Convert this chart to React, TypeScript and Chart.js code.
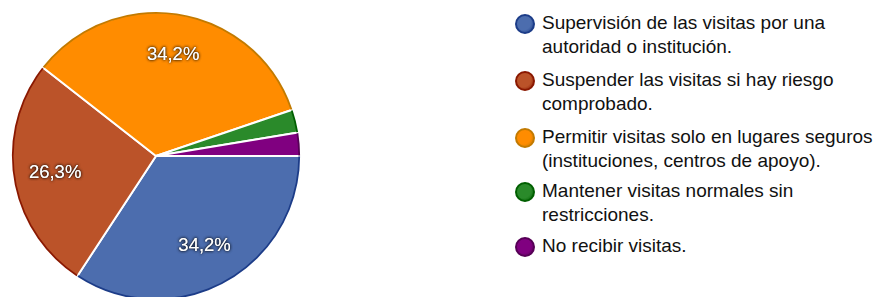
import React, { useEffect, useRef } from "react";
import { Chart, registerables } from "chart.js";

Chart.register(...registerables);

const categories: string[][] = [
  ["Supervisión de las visitas por una", "autoridad o institución."],
  ["Suspender las visitas si hay riesgo", "comprobado."],
  ["Permitir visitas solo en lugares seguros", "(instituciones, centros de apoyo)."],
  ["Mantener visitas normales sin", "restricciones."],
  ["No recibir visitas."],
];
const values: number[] = [34.2, 26.3, 34.2, 2.6, 2.6];
const sliceLabels: string[] = ["34,2%", "26,3%", "34,2%", "", ""];
const fillColors: string[] = ["#4c6dae", "#bb5329", "#ff8c00", "#2a8a2a", "#800080"];
const edgeColors: string[] = ["#1c3c88", "#8a1800", "#c27a00", "#005f00", "#560056"];

const FONT = '"Liberation Sans", Arial, sans-serif';

const outerEdgePlugin = {
  id: "outerEdge",
  afterDatasetsDraw(chart: any) {
    const meta = chart.getDatasetMeta(0);
    const ctx = chart.ctx;
    meta.data.forEach((arc: any, i: number) => {
      const { x, y, startAngle, endAngle, outerRadius } = arc.getProps(
        ["x", "y", "startAngle", "endAngle", "outerRadius"],
        true
      );
      ctx.save();
      ctx.beginPath();
      ctx.arc(x, y, outerRadius - 0.8, startAngle + 0.004, endAngle - 0.004);
      ctx.strokeStyle = edgeColors[i];
      ctx.lineWidth = 1.8;
      ctx.stroke();
      ctx.restore();
    });
    meta.data.forEach((arc: any, i: number) => {
      const text = sliceLabels[i];
      if (!text) return;
      const { x, y, startAngle, endAngle, outerRadius } = arc.getProps(
        ["x", "y", "startAngle", "endAngle", "outerRadius"],
        true
      );
      const mid = (startAngle + endAngle) / 2;
      const r = outerRadius * 0.71;
      const tx = x + Math.cos(mid) * r;
      const ty = y + Math.sin(mid) * r;
      ctx.save();
      ctx.font = `18.5px ${FONT}`;
      ctx.textAlign = "center";
      ctx.textBaseline = "middle";
      ctx.shadowColor = "rgba(0,0,0,0.8)";
      ctx.shadowBlur = 3;
      ctx.fillStyle = "#ffffff";
      ctx.fillText(text, tx, ty);
      ctx.fillText(text, tx, ty);
      ctx.restore();
    });
  },
};

function PieChart() {
  const ref = useRef<HTMLCanvasElement | null>(null);
  useEffect(() => {
    if (!ref.current) return;
    const chart = new Chart(ref.current, {
      type: "pie",
      data: {
        labels: categories,
        datasets: [
          {
            data: values,
            backgroundColor: fillColors,
            borderColor: "#ffffff",
            borderWidth: 2,
          },
        ],
      },
      options: {
        animation: false,
        responsive: false,
        rotation: 90,
        layout: { padding: 11 },
        plugins: {
          legend: { display: false },
          tooltip: { enabled: false },
        },
      },
      plugins: [outerEdgePlugin],
    });
    return () => chart.destroy();
  }, []);
  return (
    <canvas
      ref={ref}
      width={312}
      height={312}
      style={{ position: "absolute", left: 0, top: 0, width: 312, height: 312 }}
    />
  );
}

const legendTops = [11, 68, 125, 179, 234];

export default function App() {
  useEffect(() => {
    document.body.style.margin = "0";
    document.body.style.background = "#ffffff";
  }, []);
  return (
    <div
      style={{
        position: "relative",
        width: 883,
        height: 297,
        overflow: "hidden",
        background: "#ffffff",
        fontFamily: FONT,
      }}
    >
      <PieChart />
      {categories.map((lines, i) => (
        <div
          key={i}
          style={{ position: "absolute", left: 515, top: legendTops[i], display: "flex" }}
        >
          <div
            style={{
              width: 16,
              height: 16,
              marginTop: 3,
              borderRadius: "50%",
              border: `2px solid ${edgeColors[i]}`,
              background: `radial-gradient(circle at 40% 40%, ${fillColors[i]} 55%, ${edgeColors[i]} 100%)`,
              flex: "0 0 auto",
            }}
          />
          <div
            style={{
              marginLeft: 7,
              fontSize: 19,
              lineHeight: "24px",
              color: "#111",
              whiteSpace: "nowrap",
            }}
          >
            {lines.map((l, j) => (
              <div key={j}>{l}</div>
            ))}
          </div>
        </div>
      ))}
    </div>
  );
}
